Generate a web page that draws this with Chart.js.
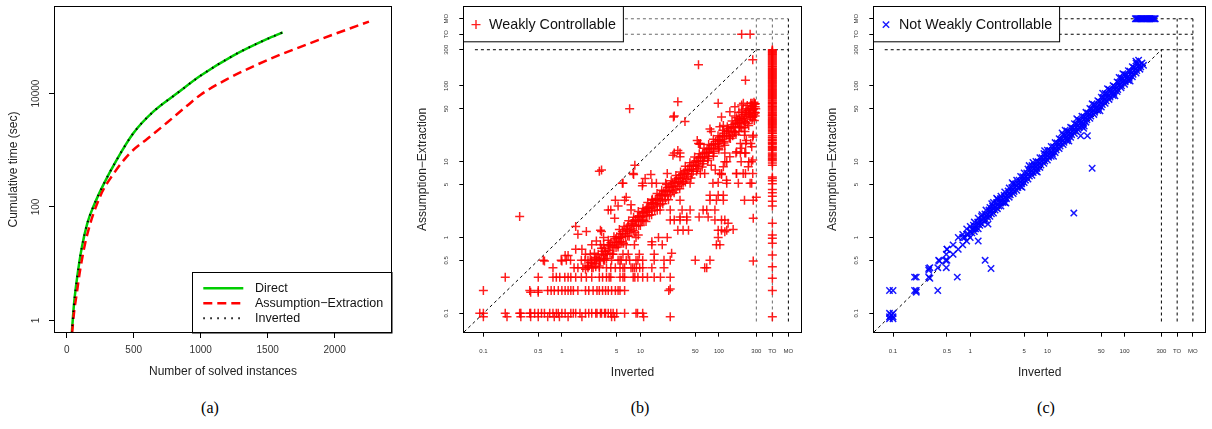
<!DOCTYPE html>
<html>
<head>
<meta charset="utf-8">
<script src="https://cdn.jsdelivr.net/npm/chart.js@4.4.1/dist/chart.umd.min.js"></script>
<style>
  body { margin: 0; background: #fff; width: 1212px; height: 429px; position: relative; overflow: hidden; }
  canvas { position: absolute; top: 0; }
  .cap { position: absolute; top: 399px; font: 16px "Liberation Serif", "Times New Roman", serif; color: #000; transform: translateX(-50%); }
</style>
</head>
<body>
<canvas id="ca" width="405" height="395" style="left:0"></canvas>
<canvas id="cb" width="410" height="395" style="left:405px"></canvas>
<canvas id="cc" width="397" height="395" style="left:815px"></canvas>
<div class="cap" style="left:210px">(a)</div>
<div class="cap" style="left:640px">(b)</div>
<div class="cap" style="left:1046px">(c)</div>
<script>
// ---- (a) cumulative time vs number of solved instances ----
const directN   = [38, 54, 79, 112, 154, 199, 273, 373, 497, 646, 821, 995, 1243, 1493, 1612];
const directT   = [0.6, 1.9, 6, 19, 52, 102, 246, 680, 2000, 4800, 10000, 20400, 46800, 91200, 120000];
const assumN    = [40, 54, 75, 99, 149, 249, 348, 472, 600, 750, 896, 1000, 1194, 1393, 1567, 1741, 1990, 2256];
const assumT    = [0.6, 1.35, 3, 7.5, 30, 153, 380, 890, 1580, 3090, 6030, 9550, 17800, 30200, 45700, 66100, 110000, 186000];
const invertedN = [38, 54, 79, 112, 154, 199, 273, 373, 497, 646, 821, 995, 1243, 1493, 1612];
const invertedT = [0.6, 1.9, 6, 19, 52, 102, 246, 680, 2000, 4800, 10000, 20400, 46800, 91200, 120000];
const xTicksA = [0, 500, 1000, 1500, 2000];
const yTicksA = [1, 100, 10000];

// ---- (b)/(c) scatter: Inverted (x) vs Assumption-Extraction (y), seconds ----
const scatterTicks = [0.1, 0.5, 1, 5, 10, 50, 100, 300, 'TO', 'MO'];

// weakly controllable instances
const weakPts = [
  // y = 0.1
  [0.09,0.1],[0.1,0.09],[0.1,0.1],[0.19,0.1],[0.2,0.09],[0.29,0.1],[0.3,0.09],[0.3,0.1],[0.39,0.1],[0.4,0.09],[0.4,0.1],[0.45,0.1],
  [0.5,0.09],[0.5,0.1],[0.55,0.1],[0.6,0.1],[0.66,0.09],[0.7,0.1],[0.77,0.1],[0.8,0.09],[0.85,0.1],[0.9,0.1],[0.93,0.09],[1,0.1],
  [1.1,0.1],[1.2,0.09],[1.3,0.1],[1.4,0.1],[1.5,0.1],[1.7,0.1],[1.8,0.09],[2,0.1],[2.2,0.1],[2.4,0.1],[2.7,0.1],[2.8,0.1],[3.1,0.1],
  [3.2,0.1],[3.5,0.1],[3.6,0.1],[3.9,0.1],[4.2,0.1],[4.3,0.09],[4.5,0.1],[4.7,0.09],[5,0.1],[6.3,0.1],[8.8,0.1],[9.2,0.1],[10.7,0.1],
  [11,0.09],[24,0.09],
  // y = 0.2
  [0.1,0.2],[0.39,0.2],[0.4,0.19],[0.5,0.2],[0.5,0.19],[0.66,0.2],[0.73,0.2],[0.8,0.2],[0.9,0.2],[1,0.2],[1.1,0.2],[1.2,0.2],[1.3,0.2],
  [1.4,0.2],[1.6,0.2],[2,0.2],[2.2,0.2],[2.5,0.2],[2.8,0.2],[3,0.2],[3.3,0.2],[3.6,0.2],[3.9,0.2],[4.3,0.2],[4.8,0.2],[5.2,0.2],[5.5,0.2],
  [6.3,0.2],[23,0.2],[24,0.21],
  // y = 0.3
  [0.19,0.3],[0.5,0.3],[0.77,0.3],[0.85,0.3],[0.94,0.3],[1.09,0.3],[1.2,0.3],[1.3,0.3],[1.5,0.3],[1.77,0.3],[2.05,0.3],[2.4,0.3],[3,0.3],
  [3.3,0.3],[3.7,0.3],[4,0.3],[4.2,0.3],[5.5,0.3],[6,0.3],[6.3,0.3],[8.1,0.3],[8.5,0.3],[9.3,0.3],[10.7,0.3],[12.3,0.3],[15,0.3],[18,0.3],
  [24,0.3],
  // y = 0.4
  [0.77,0.4],[1.43,0.4],[1.6,0.4],[1.85,0.4],[2.15,0.4],[2.4,0.4],[3,0.4],[3.7,0.4],[4.2,0.4],[4.8,0.4],[5.5,0.4],[6,0.4],[6.3,0.4],
  [7.6,0.4],[8,0.4],[8.4,0.4],[8.9,0.4],[9.8,0.4],[10.7,0.4],[14,0.4],[20,0.4],[66,0.4],[70,0.4],
  // y = 0.5
  [0.58,0.5],[0.6,0.49],[0.98,0.5],[1,0.49],[1.14,0.5],[1.29,0.5],[1.77,0.5],[1.97,0.5],[2.15,0.5],[2.4,0.5],[2.6,0.5],[2.75,0.5],[3,0.5],
  [3.4,0.5],[3.5,0.5],[4.3,0.5],[5.2,0.5],[5.5,0.5],[5.7,0.5],[6.6,0.5],[7.3,0.5],[8.8,0.5],[9.3,0.5],[10.7,0.5],[15,0.5],[20,0.5],[24,0.5],
  [50,0.5],[77,0.5],[274,0.49],
  // 0.6 .. 2
  [1.1,0.58],[1.2,0.58],[2,0.6],[2.3,0.6],[3.6,0.6],[4.5,0.6],[6,0.6],[7,0.6],[9.7,0.6],[15,0.6],[25,0.62],
  [1.5,0.7],[1.8,0.7],[2.4,0.8],[2.75,0.9],[3.1,0.8],[3.4,0.8],[3.9,0.8],[5.2,0.8],[6.6,0.8],[8.4,0.8],[14,0.8],[14,0.88],[19,0.8],[93,0.8],[103,0.8],
  [1.5,1.4],[2.05,1.2],[1.6,1.1],[3.2,1.2],[3.4,1],[5.5,1],[8.8,1],[9.4,1.08],[17,1],[22,1],[98,1],
  [3.1,1.25],[30,1.25],[35,1.25],[41,1.25],[98,1.25],[108,1.25],[126,1.25],[152,1.28],[119,1.19],[131,1.54],
  [4.7,1.8],[10.7,1.7],[24,1.7],[27,1.7],[32,1.7],[39,1.7],[89,1.7],[108,1.7],[119,1.7],[32,1.86],[39,1.86],[56,1.86],[73,1.86],[274,1.8],[0.29,1.9],
  // 2 .. 60, off the main band
  [3.9,2.3],[4.2,2.3],[7.6,2.3],[11.8,2.3],[17.8,2.3],[24,2.3],[34,2.3],[43,2.3],[63,2.3],[70,2.3],[89,2.3],
  [5.2,2.6],[7.6,2.7],[6.6,3.4],[4.8,3.1],[6.3,3.1],[14,3.1],[32,3.1],[77,3.1],[93,3.1],[114,3.1],[212,3.1],[274,3.1],[300,3.4],[77,3.6],[98,3.6],[114,3.6],
  [6,5.2],[5.9,5.2],[10.6,4.8],[10.7,5.2],[14,5.2],[16,5.2],[21,5.2],[35,5.2],[43,5.2],[84,5.2],[126,5.2],[177,5.2],[250,5.2],[98,5.3],[125,5.7],[262,5.2],
  [8.2,6.8],[3,7.5],[3.2,7.8],[8.1,7],[11.5,6],[13.6,6.8],[22,7],[58,7],[66,7],[102,7],[108,7],[167,7],[204,7],[168,7],[218,7],[270,7],[90,7.8],[108,6.8],[8.5,9],
  [80,9],[114,8.6],[237,8.6],[119,10],[126,10],[192,10],[240,10],[260,10],[270,10.5],[138,11.6],
  [26,12.2],[32,11.6],[30,14],[27,13],[32,13],[165,13],[188,13],[220,13],[119,13],[168,13.5],[214,13],[195,15],
  [57,17],[53,19],[55,17.4],[58,17.4],[188,17.4],[220,17.4],[255,17.4],[224,19],[212,22.3],[274,22.3],[270,21.2],[262,15.7],
  [77,27],[80,25],[215,25],[103,29],[114,30],[108,39],[26.4,39],[27,40],[37,34],[177,32],[205,35],
  [138,45.5],[160,53],[195,56],[7.3,50],[30,62],[98,59],[205,59],[265,59],[55,190],[218,119],[270,222],
  // main band, centre
  [2,0.38],[2.2,0.42],[2.4,0.46],[2.6,0.45],[2.8,0.52],[3,0.5],[3.2,0.6],[3.4,0.58],[3.6,0.66],[3.9,0.68],[4.1,0.77],[4.4,0.78],
  [4.7,0.87],[5,0.86],[5.3,0.98],[5.7,1],[6,1.12],[6.4,1.12],[6.8,1.26],[7.3,1.28],[7.8,1.45],[8.3,1.46],[8.8,1.62],[9.4,1.66],
  [10,1.85],[10.7,1.9],[11.4,2.1],[12.2,2.15],[13,2.42],[13.9,2.45],[14.8,2.75],[15.8,2.8],[16.8,3.1],[18,3.2],[19.2,3.55],[20.5,3.65],
  [21.8,4],[23.3,4.15],[24.9,4.6],[26.5,4.7],[28.3,5.2],[30.2,5.35],[32.2,5.95],[34.4,6.1],[36.7,6.8],[39.1,6.95],[41.7,7.7],[44.5,7.9],
  [47.5,8.8],[50.7,9],[54,10],[57.7,10.2],[61.5,11.4],[65.6,11.6],[70,12.9],[74.7,13.3],[79.7,14.7],[85,15.1],[90.7,16.8],[96.8,17.2],
  [103,19.1],[110,19.6],[118,21.8],[126,22.3],[134,24.8],[143,25.5],[153,28.3],[163,29],[174,32.2],[185,33],[198,36.6],[211,37.5],
  [225,41.6],[240,42.8],[256,47.3],[273,48.7],[290,53],
  // main band, between centre and upper edge
  [2.3,0.47],[2.9,0.6],[3.5,0.72],[4.2,0.85],[5,1.02],[5.9,1.2],[6.9,1.42],[8,1.62],[9.2,1.9],[10.5,2.12],[12,2.45],[13.6,2.8],
  [15.5,3.15],[17.5,3.6],[19.9,4.05],[22.6,4.6],[25.6,5.25],[29,5.9],[33,6.75],[37.5,7.6],[42.5,8.7],[48.3,9.8],[54.8,11.2],[62.2,12.7],
  [70.6,14.4],[80.1,16.4],[90.9,18.5],[103,21.1],[117,23.8],[133,27.2],[151,30.8],[171,35],[194,39.5],[220,45],[250,51],[283,57.5],
  [2.1,0.42],[2.7,0.54],[3.3,0.66],[4,0.8],[4.8,0.96],[5.6,1.12],[6.6,1.32],[7.6,1.52],[8.6,1.72],[9.7,1.94],[11,2.2],[12.6,2.52],
  [14.4,2.88],[16.3,3.26],[18.5,3.7],[21,4.2],[23.9,4.78],[27.2,5.44],[30.9,6.18],[35.1,7.02],[39.9,7.98],[45.3,9.06],[51.5,10.3],
  [58.5,11.7],[66.5,13.3],[75.5,15.1],[85.8,17.2],[97.5,19.5],[111,22.2],[126,25.2],[143,28.6],[162,32.4],[184,36.8],[209,41.8],
  [238,47.6],[270,54],[295,50],
  // main band, upper edge
  [2.6,0.62],[3.2,0.72],[3.9,0.92],[4.6,1.02],[5.4,1.28],[6.2,1.4],[7.1,1.66],[8.2,1.85],[9.4,2.2],[10.8,2.42],[12.4,2.9],[14.2,3.2],
  [16.3,3.8],[18.7,4.2],[21.5,5],[24.7,5.6],[28.3,6.6],[32.5,7.3],[37.3,8.7],[42.8,9.7],[49.1,11.5],[56.3,12.7],[64.6,15],[74.1,16.8],
  [85,19.8],[97.5,22],[112,26],[128,29],[147,34.3],[169,38],[194,45],[222,50],[255,59],[280,61],
  // main band, between centre and lower edge
  [2.5,0.4],[3.1,0.49],[3.8,0.6],[4.6,0.73],[5.5,0.87],[6.5,1.03],[7.6,1.2],[8.9,1.41],[10.4,1.65],[12.1,1.92],[14.1,2.24],[16.4,2.6],
  [19.1,3.03],[22.2,3.52],[25.8,4.1],[30,4.76],[34.9,5.54],[40.6,6.44],[47.2,7.5],[54.9,8.7],[63.8,10.1],[74.2,11.8],[86.3,13.7],[100,15.9],
  [117,18.5],[136,21.6],[158,25.1],[184,29.2],[214,34],[249,39.5],[285,44],
  [2.7,0.41],[3.4,0.52],[4.1,0.62],[4.9,0.74],[5.8,0.88],[6.9,1.05],[8.1,1.23],[9.5,1.44],[11.1,1.68],[13,1.97],[15.2,2.3],[17.8,2.7],
  [20.8,3.15],[24.3,3.68],[28.4,4.3],[33.2,5.03],[38.8,5.88],[45.4,6.88],[53.1,8.05],[62.1,9.4],[72.6,11],[84.9,12.9],[99.3,15],[116,17.6],
  [136,20.6],[159,24.1],[186,28.2],[218,33],[255,38.6],[292,44.2],
  // main band, lower edge
  [3,0.42],[3.7,0.53],[4.4,0.6],[5.2,0.75],[6.1,0.84],[7.2,1.04],[8.5,1.16],[10,1.44],[11.8,1.62],[13.9,2],[16.4,2.28],[19.3,2.78],
  [22.8,3.15],[26.9,3.9],[31.7,4.4],[37.4,5.4],[44.1,6.1],[52,7.5],[61.3,8.5],[72.3,10.4],[85.3,11.8],[100,14.4],[119,16.5],[140,20.2],
  [165,22.8],[195,28],[230,32],[270,38.5],[285,45],[288,58],[262,55],[278,42],[250,40],[265,36],
  // dense end of the band near the time limit
  [160,40],[180,45],[200,48],[230,55],[245,45],[275,50],[290,58],[290,40],[283,35],[240,30],[210,28],[180,25],[150,22]
];
// weakly controllable: Inverted timed out (x = TO), Assumption-Extraction time
const weakToY = [300, 292, 285, 278, 270, 262, 255, 248, 240, 233, 226, 219, 213, 206, 200, 194, 188, 182, 177, 171, 166, 161, 156,
  151, 147, 142, 138, 134, 130, 126, 122, 118, 115, 111, 108, 104, 101, 98, 95, 92, 89, 86.5, 84, 81.5, 79, 76.5, 74, 72, 70, 67.5,
  65, 63, 61, 59.5, 58, 56, 54, 52.5, 51, 49.5, 48, 46.5, 45, 43.5, 42, 41, 40, 38.5, 37, 36, 35, 34, 33, 32, 31, 30, 29, 28, 27, 26,
  25, 24, 23.5, 22, 21, 20.5, 19.5, 19, 18, 17.5, 17, 16, 15.5, 15, 14.5, 14, 13, 12.5, 12, 11.5, 11, 10.7, 10.3, 9.6, 9,
  6.3, 6, 5.6, 5.1, 4.3, 3.9, 3.5, 3, 2.6, 1.54, 1.08, 0.98, 0.84, 0.59, 0.41, 0.29, 0.2, 0.09];
// weakly controllable: Assumption-Extraction timed out (y = TO), Inverted time
const weakToRowX = [195, 250];

// not weakly controllable instances
const nwPts = [
  [0.09,0.1],[0.1,0.1],[0.09,0.09],[0.1,0.09],[0.095,0.095],[0.1,0.085],[0.09,0.085],[0.09,0.2],[0.1,0.2],
  [0.19,0.3],[0.2,0.3],[0.19,0.2],[0.2,0.2],[0.2,0.19],[0.29,0.39],[0.3,0.4],[0.29,0.37],[0.29,0.3],[0.3,0.29],
  [0.39,0.5],[0.4,0.49],[0.38,0.4],[0.38,0.2],[0.49,0.6],[0.5,0.7],[0.48,0.5],[0.49,0.4],[0.68,0.3],
  [1.27,0.9],[1.56,0.5],[1.86,0.39],[1.7,1.5],[22,2.1],[27,22],[33,22],[29.5,27.5],[38,8.2],
  // band centre
  [0.8,1],[0.85,1],[0.9,1.1],[0.95,1.1],[1,1.2],[1.06,1.3],[1.13,1.3],[1.2,1.4],[1.27,1.5],[1.34,1.6],[1.42,1.7],[1.5,1.8],[1.6,1.9],
  [1.7,2],[1.8,2.2],[1.9,2.3],[2,2.4],[2.1,2.5],[2.25,2.7],[2.4,2.9],[2.5,3],[2.7,3.2],[2.8,3.4],[3,3.6],[3.2,3.8],[3.4,4.1],[3.6,4.3],
  [3.8,4.6],[4,4.8],[4.2,5.1],[4.5,5.4],[4.8,5.7],[5,6.1],[5.3,6.3],[5.6,6.8],[6,7.2],[6.3,7.5],[6.7,8.1],[7.1,8.5],[7.5,9],[8,9.7],
  [8.5,10.1],[9,10.9],[9.5,11.3],[10,12.1],[10.6,12.6],[11.2,13.5],[11.9,14.2],[12.6,15.2],[13.4,16],[14.2,17.2],[15,17.9],[16,19.3],
  [17,20.3],[18,21.8],[19,22.6],[20,24.2],[21.2,25.3],[22.4,27.1],[23.7,28.3],[25,30.2],[26.6,31.7],[28,33.9],[30,35.8],[31.6,38.2],
  [33.5,40],[35.5,43],[37.6,44.8],[40,48.4],[42,50],[45,54.5],[47,56],[50,60.5],[53,63.2],[56,67.8],[60,71.5],[63,76.2],[67,80],
  [71,86],[75,89.5],[80,96.8],[85,101],[90,109],[95,113],[100,121],[106,126],[112,135],[119,142],[126,152],[133,159],[141,170],
  [150,179],[158,190],[168,200],
  // band, upper half
  [1.1,1.45],[1.25,1.6],[1.4,1.9],[1.55,2.05],[1.75,2.3],[1.95,2.6],[2.2,2.9],[2.45,3.25],[2.75,3.6],[3.1,4.1],[3.45,4.55],[3.85,5.1],
  [4.3,5.7],[4.8,6.35],[5.4,7.1],[6.05,8],[6.8,9],[7.6,10],[8.5,11.3],[9.5,12.5],[10.7,14.1],[12,15.8],[13.4,17.7],[15,19.8],[16.8,22.2],
  [18.8,24.8],[21.1,27.9],[23.7,31.3],[26.5,35],[29.7,39.2],[33.3,44],[37.4,49.4],[41.9,55.3],[47,62],[52.7,69.6],[59.1,78],[66.3,87.5],
  [74.3,98],[83.4,110],[93.5,123],[105,139],[118,156],[132,174],[148,195],
  // band upper edge, ragged
  [0.5,0.7],[0.6,0.8],[0.7,1],[0.8,1.1],[0.9,1.3],[1,1.4],[1.13,1.6],[1.27,1.8],[1.42,2],[1.6,2.3],[1.8,2.5],[2,2.9],[2.25,3.2],
  [2.5,3.5],[2.8,4],[3.2,4.5],[3.6,5.1],[4,5.7],[4.5,6.4],[5,7.1],[5.6,8],[6.3,8.9],[7.1,10.1],[8,11.3],[9,12.8],[10,14.2],[11.2,15.9],
  [12.6,17.9],[14.2,20.1],[16,22.7],[18,25.5],[20,28.4],[22.4,31.8],[25,35.5],[28,39.8],[31.6,44.8],[35.5,50.4],[40,56.8],[45,63.9],
  [50,71],[56,79.5],[63,89.4],[71,101],[80,113],[90,128],[100,142],[112,159],[126,179],[141,200],[152,218],
  [1.9,2.8],[2.2,3.3],[3.5,5.3],[5.8,8.9],[6.5,9.8],[9.2,14],[15.5,24],[17,26],[24,37],[38,58],[52,80],[60,92],[85,129],[95,145],[140,212],
  // band, lower half
  [1.05,1.15],[1.18,1.3],[1.33,1.45],[1.5,1.65],[1.68,1.85],[1.88,2.05],[2.1,2.3],[2.35,2.6],[2.65,2.9],[2.95,3.25],[3.3,3.65],[3.7,4.05],
  [4.15,4.55],[4.65,5.1],[5.2,5.7],[5.85,6.45],[6.55,7.2],[7.35,8.1],[8.25,9.05],[9.25,10.2],[10.4,11.4],[11.6,12.8],[13,14.3],[14.6,16.1],
  [16.4,18],[18.4,20.2],[20.6,22.7],[23.1,25.4],[25.9,28.5],[29,31.9],[32.5,35.8],[36.5,40.1],[40.9,45],[45.9,50.5],[51.5,56.6],[57.7,63.5],
  [64.8,71.3],[72.7,80],[81.5,89.6],[91.4,100],[102,113],[115,126],[129,142],[144,159],[162,178],
  // band lower edge
  [0.5,0.5],[0.6,0.6],[0.7,0.7],[0.8,0.8],[0.9,0.9],[1,1],[1.13,1.2],[1.27,1.3],[1.42,1.5],[1.6,1.7],[1.8,1.9],[2,2.1],[2.25,2.4],
  [2.5,2.6],[2.8,2.9],[3.2,3.4],[3.6,3.8],[4,4.2],[4.5,4.7],[5,5.3],[5.6,5.9],[6.3,6.6],[7.1,7.5],[8,8.4],[9,9.5],[10,10.5],[11.2,11.8],
  [12.6,13.2],[14.2,14.9],[16,16.8],[18,18.9],[20,21],[22.4,23.5],[25,26.3],[28,29.4],[31.6,33.2],[35.5,37.3],[40,42],[45,47.3],
  [50,52.5],[56,58.8],[63,66.2],[71,74.6],[80,84],[90,94.5],[100,105],[112,118],[126,132],[141,148],[158,166],[176,187],
  [2.9,2.85],[4.7,4.6],[7.4,7.3],[12,11.8],[19,18.7],[30,29.5],[48,47],[75,74],[118,116]
];
// not weakly controllable: Assumption-Extraction ran out of memory (y = MO), Inverted time
const nwMoRowX = [138, 142, 146, 150, 155, 160, 165, 170, 176, 182, 188, 194, 200, 207, 214, 221, 228, 236, 244, 250];

// where the TO / MO columns sit on the log axes
const TO_AT = 480, MO_AT = 768;
const pos = v => v === 'TO' ? TO_AT : v === 'MO' ? MO_AT : v;
const REF_LO = 0.078;

Chart.defaults.font.family = '"Liberation Sans", Arial, sans-serif';
const SANS = '"Liberation Sans", Arial, sans-serif';

function decor(o) {
  return {
    id: 'decor',
    afterDatasetsDraw(chart) {
      const { ctx, chartArea: a } = chart;
      const y = chart.scales.y;
      ctx.save();
      if (o.legend) o.legend(ctx, a);
      ctx.setLineDash([]);
      ctx.strokeStyle = '#000';
      ctx.lineWidth = 1;
      const L = Math.round(a.left) + 0.5, T = Math.round(a.top) + 0.5;
      const R = Math.round(a.right) - 0.5, B = Math.round(a.bottom) - 0.5;
      ctx.strokeRect(L, T, R - L, B - T);
      // y tick labels, turned like R does
      ctx.fillStyle = '#333';
      ctx.font = o.tickFont;
      ctx.textAlign = 'center';
      ctx.textBaseline = 'middle';
      o.yTicks.forEach(v => {
        ctx.save();
        ctx.translate(o.yTickX, y.getPixelForValue(pos(v)));
        ctx.rotate(-Math.PI / 2);
        ctx.fillText(String(v), 0, 0);
        ctx.restore();
      });
      ctx.fillStyle = '#222';
      ctx.font = '12px ' + SANS;
      ctx.fillText(o.xTitle, (a.left + a.right) / 2, o.xTitleY);
      ctx.save();
      ctx.translate(o.yTitleX, (a.top + a.bottom) / 2);
      ctx.rotate(-Math.PI / 2);
      ctx.fillText(o.yTitle, 0, 0);
      ctx.restore();
      ctx.restore();
    }
  };
}

function axisCommon(extra) {
  return Object.assign({
    border: { display: false },
    grid: { drawOnChartArea: false, drawTicks: true, color: '#000', lineWidth: 1 }
  }, extra);
}

// ---------- (a) ----------
const lineStyles = {
  direct:   { color: '#00CD00', dash: [], width: 2.5 },
  assum:    { color: '#FF0000', dash: [9, 5], width: 2.5 },
  inverted: { color: '#000000', dash: [1.5, 5.5], width: 2 }
};
const xy = (xs, ys) => xs.map((x, i) => ({ x, y: ys[i] }));

new Chart(document.getElementById('ca'), {
  type: 'line',
  data: {
    datasets: [
      { label: 'Direct', data: xy(directN, directT), borderColor: lineStyles.direct.color, borderWidth: 2.5,
        pointRadius: 0, cubicInterpolationMode: 'monotone', order: 2 },
      { label: 'Assumption−Extraction', data: xy(assumN, assumT), borderColor: lineStyles.assum.color, borderWidth: 2.5,
        borderDash: lineStyles.assum.dash, pointRadius: 0, cubicInterpolationMode: 'monotone', order: 1 },
      { label: 'Inverted', data: xy(invertedN, invertedT), borderColor: '#000', borderWidth: 2,
        borderDash: lineStyles.inverted.dash, pointRadius: 0, cubicInterpolationMode: 'monotone', order: 0 }
    ]
  },
  options: {
    responsive: false, animation: false, events: [],
    layout: { padding: { left: 0, top: 6, right: 13, bottom: 0 } },
    plugins: { legend: { display: false }, tooltip: { enabled: false } },
    scales: {
      x: axisCommon({
        type: 'linear', min: -95, max: 2428,
        afterFit: s => { s.height = 62; },
        afterBuildTicks: s => { s.ticks = xTicksA.map(v => ({ value: v })); },
        grid: { drawOnChartArea: false, color: '#000', tickLength: 5 },
        ticks: { autoSkip: false, maxRotation: 0, padding: 6, color: '#333', font: { size: 10 },
                 callback: v => String(v) }
      }),
      y: axisCommon({
        type: 'logarithmic', min: 0.607, max: 350000,
        afterFit: s => { s.width = 54; },
        afterBuildTicks: s => { s.ticks = yTicksA.map(v => ({ value: v })); },
        grid: { drawOnChartArea: false, color: '#000', tickLength: 5 },
        ticks: { display: false }
      })
    }
  },
  plugins: [decor({
    yTicks: yTicksA, yTickX: 36.7, tickFont: '10px ' + SANS,
    xTitle: 'Number of solved instances', xTitleY: 372,
    yTitle: 'Cumulative time (sec)', yTitleX: 13.8,
    legend(ctx, a) {
      const x0 = 192.5, y0 = 272.5;
      ctx.fillStyle = '#fff';
      ctx.fillRect(x0, y0, a.right - x0, a.bottom - y0);
      ctx.strokeStyle = '#000'; ctx.lineWidth = 1;
      ctx.strokeRect(x0, y0, a.right - x0, a.bottom - y0);
      const rows = [['Direct', lineStyles.direct], ['Assumption−Extraction', lineStyles.assum], ['Inverted', lineStyles.inverted]];
      ctx.font = '12.5px ' + SANS;
      ctx.textAlign = 'left'; ctx.textBaseline = 'middle';
      rows.forEach(([label, st], i) => {
        const yy = 288.3 + i * 15;
        ctx.strokeStyle = st.color; ctx.lineWidth = st.width; ctx.setLineDash(st.dash);
        ctx.beginPath(); ctx.moveTo(203.3, yy); ctx.lineTo(243.3, yy); ctx.stroke();
        ctx.setLineDash([]);
        ctx.fillStyle = '#111';
        ctx.fillText(label, 255, yy);
      });
    }
  })]
});

// ---------- (b) and (c) ----------
function seg(x1, y1, x2, y2, color) {
  return {
    data: [{ x: pos(x1), y: pos(y1) }, { x: pos(x2), y: pos(y2) }],
    showLine: true, pointRadius: 0, borderColor: color, borderWidth: 1, borderDash: [3, 3], order: 1
  };
}

function scatterPanel(id, cfg) {
  new Chart(document.getElementById(id), {
    type: 'scatter',
    data: { datasets: cfg.lines.concat([{
      data: cfg.points, pointStyle: cfg.marker, pointRadius: 4.5, pointBorderWidth: 1.5,
      pointBorderColor: cfg.color, pointBackgroundColor: 'transparent', order: 0
    }]) },
    options: {
      responsive: false, animation: false, events: [],
      layout: { padding: { left: 0, top: 5.7, right: cfg.padRight, bottom: 0 } },
      plugins: { legend: { display: false }, tooltip: { enabled: false } },
      scales: {
        x: axisCommon({
          type: 'logarithmic', min: 0.0555, max: 1135,
          afterFit: s => { s.height = 62.3; },
          afterBuildTicks: s => { s.ticks = scatterTicks.map(t => ({ value: pos(t) })); },
          grid: { drawOnChartArea: false, color: '#000', tickLength: 4 },
          ticks: { autoSkip: false, maxRotation: 0, minRotation: 0, padding: 11, color: '#333', font: { size: 6 },
                   callback: (v, i) => String(scatterTicks[i]) }
        }),
        y: axisCommon({
          type: 'logarithmic', min: 0.0555, max: 1132,
          afterFit: s => { s.width = 58.3; },
          afterBuildTicks: s => { s.ticks = scatterTicks.map(t => ({ value: pos(t) })); },
          grid: { drawOnChartArea: false, color: '#000', tickLength: 4 },
          ticks: { display: false }
        })
      }
    },
    plugins: [decor({
      yTicks: scatterTicks, yTickX: 41.7, tickFont: '6px ' + SANS,
      xTitle: 'Inverted', xTitleY: 372.7,
      yTitle: 'Assumption−Extraction', yTitleX: 18,
      legend(ctx, a) {
        ctx.font = '14.3px ' + SANS;
        const w = 25.7 + ctx.measureText(cfg.label).width + 7.3, h = 35.3;
        const x0 = Math.round(a.left) + 0.5, y0 = Math.round(a.top) + 0.5;
        ctx.fillStyle = '#fff'; ctx.fillRect(x0, y0, w, h);
        ctx.strokeStyle = '#000'; ctx.lineWidth = 1; ctx.setLineDash([]);
        ctx.strokeRect(x0, y0, w, h);
        const mx = a.left + 12.7, my = a.top + 18.6;
        ctx.strokeStyle = cfg.color; ctx.lineWidth = 1.4;
        ctx.beginPath();
        if (cfg.marker === 'cross') {
          ctx.moveTo(mx - 4.5, my); ctx.lineTo(mx + 4.5, my); ctx.moveTo(mx, my - 4.5); ctx.lineTo(mx, my + 4.5);
        } else {
          ctx.moveTo(mx - 3.2, my - 3.2); ctx.lineTo(mx + 3.2, my + 3.2); ctx.moveTo(mx - 3.2, my + 3.2); ctx.lineTo(mx + 3.2, my - 3.2);
        }
        ctx.stroke();
        ctx.fillStyle = '#111'; ctx.textAlign = 'left'; ctx.textBaseline = 'middle';
        ctx.fillText(cfg.label, a.left + 25.7, my);
      }
    })]
  });
}

const weakData = weakPts.map(([x, y]) => ({ x, y }))
  .concat(weakToY.map(y => ({ x: pos('TO'), y })))
  .concat(weakToRowX.map(x => ({ x, y: pos('TO') })));
const GRAY = '#6a6a6a';
scatterPanel('cb', {
  label: 'Weakly Controllable', marker: 'cross', color: 'rgba(255,0,0,0.88)', padRight: 13.3, points: weakData,
  lines: [
    seg(0.05, 0.05, 300, 300, '#000'),
    seg(REF_LO, 300, 'MO', 300, '#000'),
    seg(REF_LO, 'TO', 'MO', 'TO', GRAY),
    seg(REF_LO, 'MO', 'MO', 'MO', GRAY),
    seg(300, REF_LO, 300, 'MO', GRAY),
    seg('TO', REF_LO, 'TO', 'MO', GRAY),
    seg('MO', REF_LO, 'MO', 'MO', '#000')
  ]
});

const nwData = nwPts.map(([x, y]) => ({ x, y }))
  .concat(nwMoRowX.map(x => ({ x, y: pos('MO') })));
scatterPanel('cc', {
  label: 'Not Weakly Controllable', marker: 'crossRot', color: 'rgba(0,0,255,0.9)', padRight: 0.3, points: nwData,
  lines: [
    seg(0.05, 0.05, 300, 300, '#000'),
    seg(REF_LO, 300, 'MO', 300, '#000'),
    seg(REF_LO, 'TO', 'MO', 'TO', '#000'),
    seg(REF_LO, 'MO', 'MO', 'MO', '#000'),
    seg(300, REF_LO, 300, 300, '#000'),
    seg('TO', REF_LO, 'TO', 'MO', '#000'),
    seg('MO', REF_LO, 'MO', 'MO', '#000')
  ]
});
</script>
</body>
</html>
